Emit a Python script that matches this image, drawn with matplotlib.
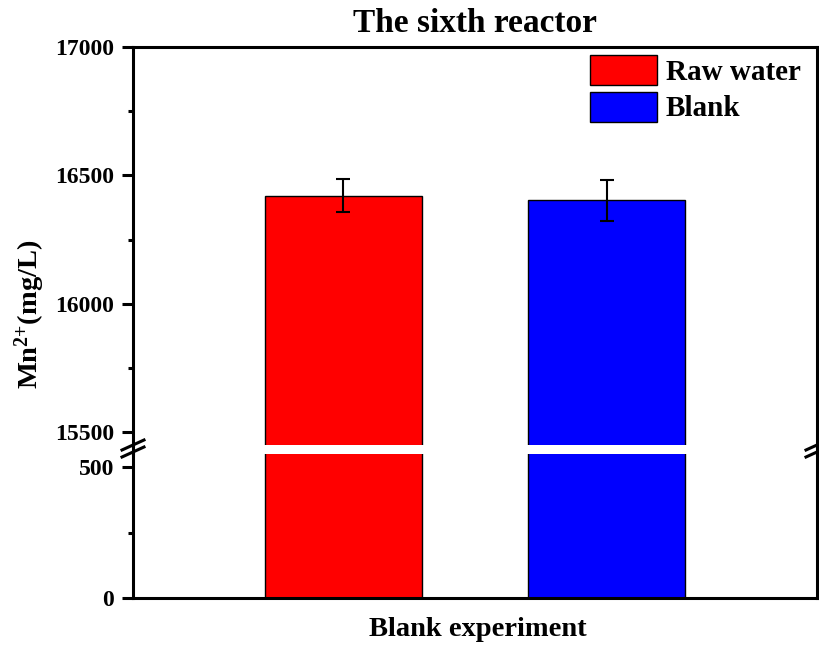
import matplotlib
matplotlib.use("Agg")
import matplotlib.pyplot as plt
from matplotlib.lines import Line2D
from matplotlib.ticker import MultipleLocator

plt.rcParams['font.family'] = ['Liberation Serif', 'DejaVu Serif']
plt.rcParams['font.weight'] = 'bold'
plt.rcParams['mathtext.fontset'] = 'custom'
plt.rcParams['mathtext.rm'] = 'Liberation Serif:bold'
plt.rcParams['mathtext.bf'] = 'Liberation Serif:bold'
plt.rcParams['mathtext.it'] = 'Liberation Serif:bold'

# data
series = ['Raw water', 'Blank']
values = [16420, 16403]
errors = [64, 80]
colors = ['#ff0000', '#0000ff']
xpos = [1, 2]
title = 'The sixth reactor'
xlabel = 'Blank experiment'
ylabel = r'Mn$^{2{+}}$(mg/L)'

W, H = 820, 648
fig = plt.figure(figsize=(W/100, H/100), dpi=100)

left = 133/W; right = 817/W
ax_top = fig.add_axes([left, 1-445/H, right-left, (445-47)/H])
ax_bot = fig.add_axes([left, 1-598/H, right-left, (598-454)/H])

lw = 2.2
for ax in (ax_top, ax_bot):
    for i in range(2):
        ax.bar(xpos[i], values[i], width=0.6, color=colors[i], edgecolor='black',
               linewidth=1.0, label=series[i], zorder=2)
    ax.set_xlim(0.2, 2.8)
    ax.set_xticks([])
    ax.yaxis.set_major_locator(MultipleLocator(500))
    ax.yaxis.set_minor_locator(MultipleLocator(250))
    for s in ax.spines.values():
        s.set_linewidth(lw)
    ax.tick_params(axis='y', which='major', direction='out', length=8, width=lw,
                   labelsize=17, pad=5.5)
    ax.tick_params(axis='y', which='minor', direction='out', length=3.5, width=lw)

ax_top.errorbar(xpos, values, yerr=errors, fmt='none', ecolor='black',
                elinewidth=1.5, capsize=5, capthick=1.5, zorder=3)

ax_top.set_ylim(15450, 17000)
ax_top.spines['bottom'].set_visible(False)

ax_bot.set_ylim(0, 550)
ax_bot.spines['top'].set_visible(False)

# continuous spines across the break, with break marks
for xf in (left, right):
    fig.add_artist(Line2D([xf, xf], [1-445/H, 1-454/H], color='black', lw=lw,
                          transform=fig.transFigure))
    for yc in (445, 452):
        fig.add_artist(Line2D([xf-11/W, xf+11/W], [1-(yc+5)/H, 1-(yc-5)/H],
                              color='black', lw=lw, transform=fig.transFigure))

fig.text(475/W, 1-23/H, title, ha='center', va='center', fontsize=24, fontweight='bold')
fig.text(478/W, 1-630/H, xlabel, ha='center', va='center', fontsize=20.5, fontweight='bold')
fig.text(30/W, 1-314/H, ylabel, ha='center', va='center', rotation=90,
         fontsize=20.5, fontweight='bold')

leg = ax_top.legend(loc='upper left', bbox_to_anchor=(590/W, 1-55/H),
                    bbox_transform=fig.transFigure, frameon=False, borderpad=0,
                    borderaxespad=0, handlelength=2.3, handleheight=1.2,
                    labelspacing=0.2, handletextpad=0.3,
                    prop={'size': 21, 'weight': 'bold'})

fig.savefig('out.png', dpi=100)
